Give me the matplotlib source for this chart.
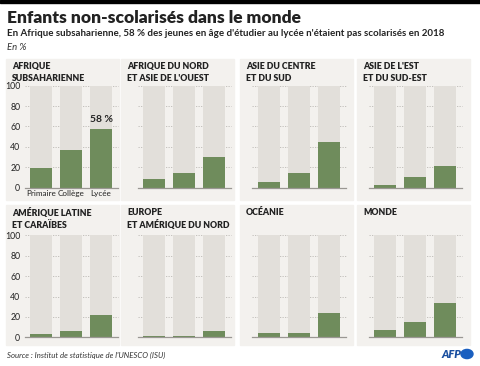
'''Enfants non-scolarisés dans le monde - small multiples.'''

import matplotlib.pyplot as plt
from matplotlib.patches import Rectangle, Circle

# Data (en %)
niveaux = ['Primaire', 'Collège', 'Lycée']
regions = ['AFRIQUE\nSUBSAHARIENNE', "AFRIQUE DU NORD\nET ASIE DE L'OUEST",
           'ASIE DU CENTRE\nET DU SUD', "ASIE DE L'EST\nET DU SUD-EST",
           'AMÉRIQUE LATINE\nET CARAÏBES', 'EUROPE\nET AMÉRIQUE DU NORD',
           'OCÉANIE', 'MONDE']
afrique_sub = [19, 37, 58]
afrique_nord = [9, 14, 30]
asie_centre = [6, 14, 45]
asie_est = [3, 10, 21]
amerique_lat = [3, 6, 22]
europe = [1, 1, 6]
oceanie = [4, 4, 24]
monde = [7, 15, 34]
valeurs = [afrique_sub, afrique_nord, asie_centre, asie_est,
           amerique_lat, europe, oceanie, monde]
yticks = [0, 20, 40, 60, 80, 100]

W, H = 480, 366
green = '#6f8c5c'
bar_bg = '#e2dfda'
panel_bg = '#f3f1ee'
dark = '#222222'

plt.rcParams['font.family'] = ['Lato', 'DejaVu Sans']

fig = plt.figure(figsize=(W / 100, H / 100), dpi=100)
fig.patch.set_facecolor('white')

def fx(px):
    return px / W

def fy(py):
    return 1 - py / H

# black band on top
fig.patches.append(Rectangle((0, fy(3)), 1, 3 / H, transform=fig.transFigure,
                             color='black', zorder=-1))

fig.text(fx(7), fy(18), 'Enfants non-scolarisés dans le monde', fontsize=12.5,
         fontweight='heavy', color=dark, va='center')
fig.text(fx(7), fy(33), "En Afrique subsaharienne, 58 % des jeunes en âge d'étudier "
         "au lycée n'étaient pas scolarisés en 2018", fontsize=7,
         fontweight='bold', color=dark, va='center')
fig.text(fx(7), fy(47), 'En %', fontsize=6.8, style='italic', color='#333333',
         va='center')

col_left = [6, 121, 240, 357]
col_bar0 = [41, 154, 269, 385]
row_top = [59, 205]
row_bottom = [200, 345]
row_zero = [187.7, 337.3]
row_full = [85.7, 235.3]
step = 30

for i, (name, vals) in enumerate(zip(regions, valeurs)):
    r, c = divmod(i, 4)
    # panel background
    fig.patches.append(Rectangle((fx(col_left[c]), fy(row_bottom[r])), 113 / W,
                                 (row_bottom[r] - row_top[r]) / H,
                                 transform=fig.transFigure, color=panel_bg,
                                 zorder=-1))
    fig.text(fx(col_left[c] + 6), fy(row_top[r] + 3), name, fontsize=6.3,
             fontweight='heavy', color=dark, va='top', linespacing=1.4)

    left = col_bar0[c] - 0.55 * step
    ax = fig.add_axes([fx(left), fy(row_zero[r]), 3.1 * step / W,
                       (row_zero[r] - row_full[r]) / H])
    ax.set_facecolor('none')
    x = range(len(niveaux))
    ax.bar(x, [100] * 3, width=0.73, color=bar_bg, zorder=1)
    ax.bar(x, vals, width=0.73, color=green, zorder=2)
    for t in yticks[1:]:
        ax.axhline(t, color='#bdbab5', lw=0.6, ls=(0, (1.5, 1.5)), zorder=0,
                   clip_on=False)
    ax.axhline(0, color='#9a9793', lw=0.9, zorder=3, clip_on=False)
    ax.set_xlim(-0.55, 2.55)
    ax.set_ylim(0, 100)
    for s in ax.spines.values():
        s.set_visible(False)
    ax.tick_params(axis='y', length=0, labelsize=6.3, colors=dark, pad=3)
    ax.tick_params(axis='x', length=0, labelsize=5.9, colors=dark, pad=2)
    ax.set_yticks(yticks)
    if c == 0:
        ax.set_yticklabels([str(t) for t in yticks])
    else:
        ax.set_yticklabels([])
    ax.set_xticks(list(x))
    if i == 0:
        ax.set_xticklabels(niveaux)
        ax.text(2, vals[2] + 4, f'{vals[2]} %', ha='center', va='bottom',
                fontsize=7.5, fontweight='bold', color=dark)
    else:
        ax.set_xticklabels([])

fig.text(fx(7), fy(355), "Source : Institut de statistique de l'UNESCO (ISU)",
         fontsize=5.6, style='italic', color='#333333', va='center')
fig.text(fx(461), fy(354), 'AFP', fontsize=8, fontweight='heavy', style='italic',
         color='#1a4fa0', ha='right', va='center')
fig.patches.append(Circle((fx(467), fy(354)), 6 / W, transform=fig.transFigure,
                          color='#1a5fc0', zorder=-1))

fig.savefig('out.png', dpi=100)
